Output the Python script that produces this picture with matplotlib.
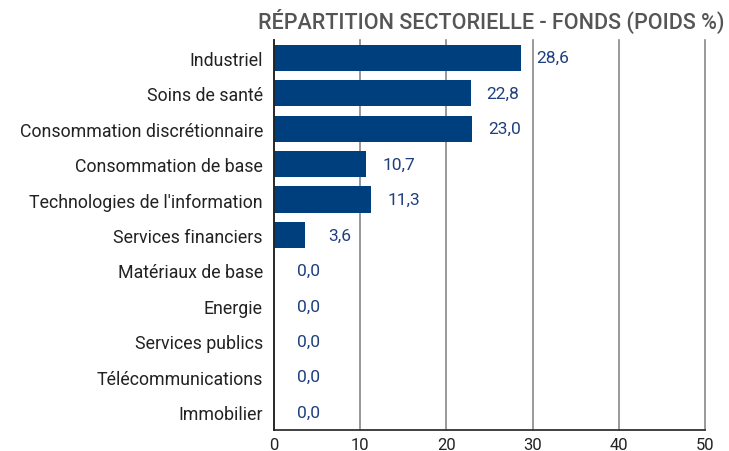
import matplotlib
matplotlib.use("Agg")
import matplotlib.pyplot as plt

categories = ["Industriel", "Soins de santé", "Consommation discrétionnaire",
              "Consommation de base", "Technologies de l'information",
              "Services financiers", "Matériaux de base", "Energie",
              "Services publics", "Télécommunications", "Immobilier"]
values = [28.6, 22.8, 23.0, 10.7, 11.3, 3.6, 0.0, 0.0, 0.0, 0.0, 0.0]
xticks = [0, 10, 20, 30, 40, 50]
title = "RÉPARTITION SECTORIELLE - FONDS (POIDS %)"

plt.rcParams['font.family'] = ['Roboto', 'DejaVu Sans']

fig = plt.figure(figsize=(7.29, 4.52), dpi=100)
ax = fig.add_axes([274/729, 1-431/452, (705-274)/729, (431-41)/452])

y = list(range(len(categories)))
ax.barh(y, values, height=0.74, color="#003f7d", zorder=3)
ax.set_ylim(len(categories)-0.5, -0.5)
ax.set_xlim(0, 50)
ax.set_xticks(xticks)
ax.set_xticklabels([str(t) for t in xticks], fontsize=12, color="#222222")
ax.tick_params(axis='both', length=0, pad=5)
ax.set_yticks(y)
ax.set_yticklabels(categories, fontsize=12.8, color="#222222")
ax.tick_params(axis='y', pad=8)
ax.grid(axis='x', color="#888888", linewidth=1.2, zorder=0, clip_on=False)
for s in ['top', 'right']:
    ax.spines[s].set_visible(False)
ax.spines['left'].set_color("#222222")
ax.spines['left'].set_linewidth(1.3)
ax.spines['bottom'].set_color("#333333")
ax.spines['bottom'].set_linewidth(1.3)
ax.spines['left'].set_zorder(4)

for yi, v in zip(y, values):
    ax.annotate(f"{v:.1f}".replace(".", ","), xy=(v, yi), xytext=(16 if v > 5 else 23, 0),
                textcoords="offset pixels", va="center", ha="left",
                fontsize=12.5, color="#1f3f7f", zorder=5)

fig.text(725/729, 1-21/452, title, ha="right", va="center", fontsize=15.5,
         color="#555555", fontweight="medium")

fig.savefig("out.png", dpi=100)
